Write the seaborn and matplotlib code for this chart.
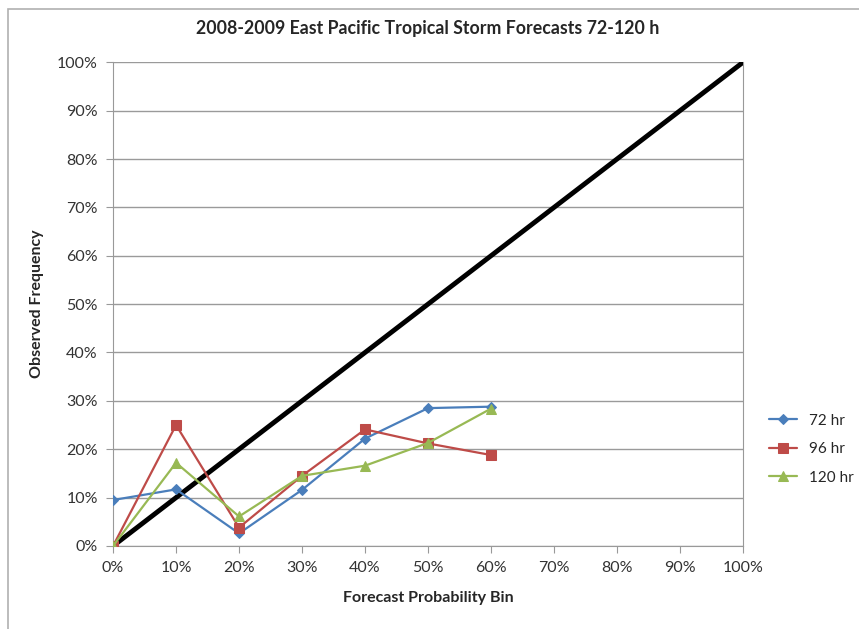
import pandas as pd
import seaborn as sns
import matplotlib.pyplot as plt
from matplotlib.patches import Rectangle
from matplotlib.ticker import PercentFormatter

# Forecast probability bins (%)
bins = [0, 10, 20, 30, 40, 50, 60]

# Observed frequency (%) per lead time
obs_72 = [9.5, 11.7, 2.6, 11.6, 22.2, 28.5, 28.8]
obs_96 = [0.0, 25.0, 3.8, 14.5, 24.1, 21.2, 18.8]
obs_120 = [0.0, 17.2, 6.1, 14.5, 16.6, 21.3, 28.4]

# perfect reliability line
diag = [0, 100]

series = ['72 hr', '96 hr', '120 hr']
colors = ['#4A7EBB', '#BE4B48', '#98B954']
markers = ['D', 's', '^']

df = pd.DataFrame({
    'bin': bins * 3,
    'obs': obs_72 + obs_96 + obs_120,
    'lead': [s for s in series for _ in bins],
})

sns.set_style('white')
plt.rcParams['font.family'] = ['Lato', 'DejaVu Sans']

fig = plt.figure(figsize=(8.59, 6.29), dpi=100)
ax = fig.add_axes([0.1316, 0.132, 0.7334, 0.769])

# outer chart frame
fig.patches.append(Rectangle((0.009, -0.01), 1.2, 0.995, transform=fig.transFigure,
                             fill=False, edgecolor='#b0b0b0', linewidth=1.2))

sns.lineplot(x=diag, y=diag, color='black', linewidth=3.5, ax=ax, legend=False, zorder=3)

for name, c, m in zip(series, colors, markers):
    sub = df[df['lead'] == name]
    sns.lineplot(data=sub, x='bin', y='obs', color=c, marker=m,
                 markersize=7 if m != 'D' else 5, markeredgecolor=c,
                 linewidth=1.6, label=name, ax=ax, zorder=4)

ax.set_xlim(0, 100)
ax.set_ylim(0, 100)
ax.set_xticks(range(0, 101, 10))
ax.set_yticks(range(0, 101, 10))
ax.xaxis.set_major_formatter(PercentFormatter(decimals=0))
ax.yaxis.set_major_formatter(PercentFormatter(decimals=0))
ax.tick_params(axis='both', labelsize=11.5, length=5, color='#999999', direction='out',
               bottom=True, left=True, pad=6, labelcolor='#333333')
ax.grid(axis='y', color='#9a9a9a', linewidth=1)
ax.set_axisbelow(True)
ax.spines['top'].set_visible(False)
for side in ['left', 'bottom', 'right']:
    ax.spines[side].set_color('#999999')

ax.set_title('2008-2009 East Pacific Tropical Storm Forecasts 72-120 h',
             fontsize=12.8, fontweight='bold', pad=20)
ax.set_xlabel('Forecast Probability Bin', fontsize=11.5, fontweight='bold', labelpad=11)
ax.set_ylabel('Observed Frequency', fontsize=11.5, fontweight='bold', labelpad=9)

ax.legend(loc='center left', bbox_to_anchor=(1.02, 0.2), frameon=False,
          fontsize=11, handlelength=1.8, labelspacing=0.95)

fig.savefig('out.png', dpi=100)
